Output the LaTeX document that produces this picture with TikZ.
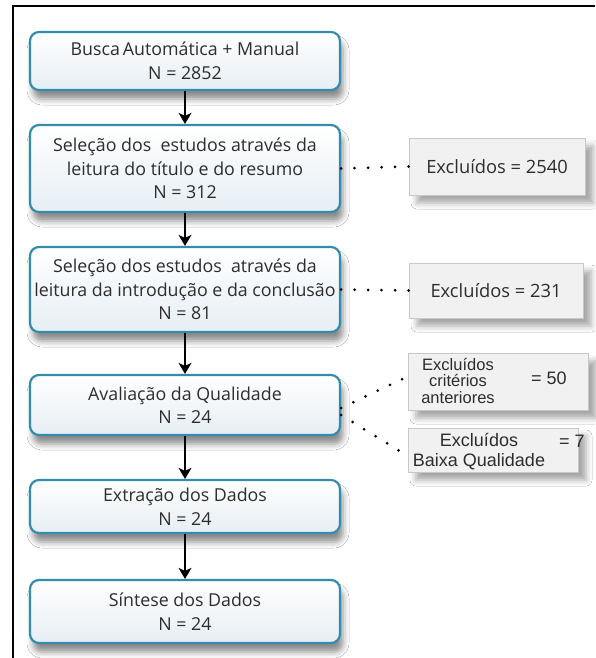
\documentclass[tikz,border=0pt]{standalone}
\usepackage{fontspec}
\setmainfont{Open Sans}
\newfontfamily\arialf{Liberation Sans}
\usetikzlibrary{arrows.meta,shadows.blur,calc}
\definecolor{boxborder}{RGB}{52,140,172}
\definecolor{boxtop}{RGB}{255,255,255}
\definecolor{boxbot}{RGB}{230,238,244}
\definecolor{txt}{RGB}{45,45,45}
\definecolor{exfill}{RGB}{241,241,241}
\definecolor{exborder}{RGB}{200,200,200}
\tikzset{
  stage/.style={draw=boxborder, line width=2.2pt, rounded corners=9pt,
    top color=boxtop, bottom color=boxbot, minimum width=310pt, inner sep=1pt,
    align=center, text=txt, font=\fontsize{17.8}{23.5}\selectfont,
    blur shadow={shadow xshift=3pt, shadow yshift=-9pt, shadow blur radius=6pt, shadow opacity=45}},
  excl/.style={draw=exborder, line width=0.6pt, fill=exfill, text=txt,
    font=\fontsize{18.3}{20}\selectfont, inner sep=0pt,
    blur shadow={shadow xshift=8pt, shadow yshift=-8pt, shadow blur radius=6pt, shadow opacity=35}},
  exlabel/.style={text=txt, inner sep=0pt},
  flow/.style={line width=1.4pt, -{Stealth[length=11pt,width=13pt,inset=3pt]}},
  dots/.style={line width=3pt, line cap=round, dash pattern=on 0pt off 13.5pt}
}
\begin{document}
\begin{tikzpicture}[x=1pt,y=-1pt]
\useasboundingbox (0,0) rectangle (595,658);
\fill[white] (0,0) rectangle (595,658);
% frame
\draw[line width=1.6pt] (13,658) -- (13,6) -- (595,6);
% stages
\node[stage, minimum height=58pt] (b1) at (185,61) {Busca\,Automática + Manual\\N = 2852};
\node[stage, minimum height=87pt] (b2) at (185,168.5) {Seleção dos\ \ estudos através da\\leitura do título e do resumo\\N = 312};
\node[stage, minimum height=85pt] (b3) at (185,289.5) {Seleção dos estudos\ \ através da\\leitura da introdução e da conclusão\\N = 81};
\node[stage, minimum height=60pt] (b4) at (185,405) {Avaliação da Qualidade\\N = 24};
\node[stage, minimum height=53pt] (b5) at (185,506.5) {Extração dos Dados\\N = 24};
\node[stage, minimum height=63pt] (b6) at (185,611.5) {Síntese dos Dados\\N = 24};
% exclusion boxes
\node[excl, minimum width=176pt, minimum height=57pt] (e1) at (497,166.5) {Excluídos = 2540};
\node[excl, minimum width=174pt, minimum height=55pt] (e2) at (496,290.5) {Excluídos = 231};
\node[excl, minimum width=180pt, minimum height=57pt] (e3) at (498,381.5) {};
\node[excl, minimum width=170pt, minimum height=44pt] (e4) at (493,450) {};
\node[exlabel, font=\arialf\fontsize{16.5}{16.5}\selectfont, align=center] (e3t) at (458,381) {Excluídos\\critérios\\anteriores};
\node[exlabel, font=\arialf\fontsize{18}{15}\selectfont] (e3n) at (549,378) {= 50};
\node[exlabel, font=\arialf\fontsize{18}{20}\selectfont, align=center] (e4t) at (479,452) {Excluídos\\Baixa Qualidade};
\node[exlabel, font=\arialf\fontsize{18}{15}\selectfont] (e4n) at (572,441) {= 7};
% flow arrows
\draw[flow] (b1) -- (b2);
\draw[flow] (b2) -- (b3);
\draw[flow] (b3) -- (b4);
\draw[flow] (b4) -- (b5);
\draw[flow] (b5) -- (b6);
% dotted links
\draw[dots] (b2.east) -- (e1.west);
\draw[dots] (b3.east) -- (e2.west);
\draw[dots] ([yshift=-3pt]b4.east) -- ([yshift=5pt]e3.west);
\draw[dots] ([yshift=-10pt]b4.east) -- ([yshift=-6pt]e4.west);
\end{tikzpicture}
\end{document}
